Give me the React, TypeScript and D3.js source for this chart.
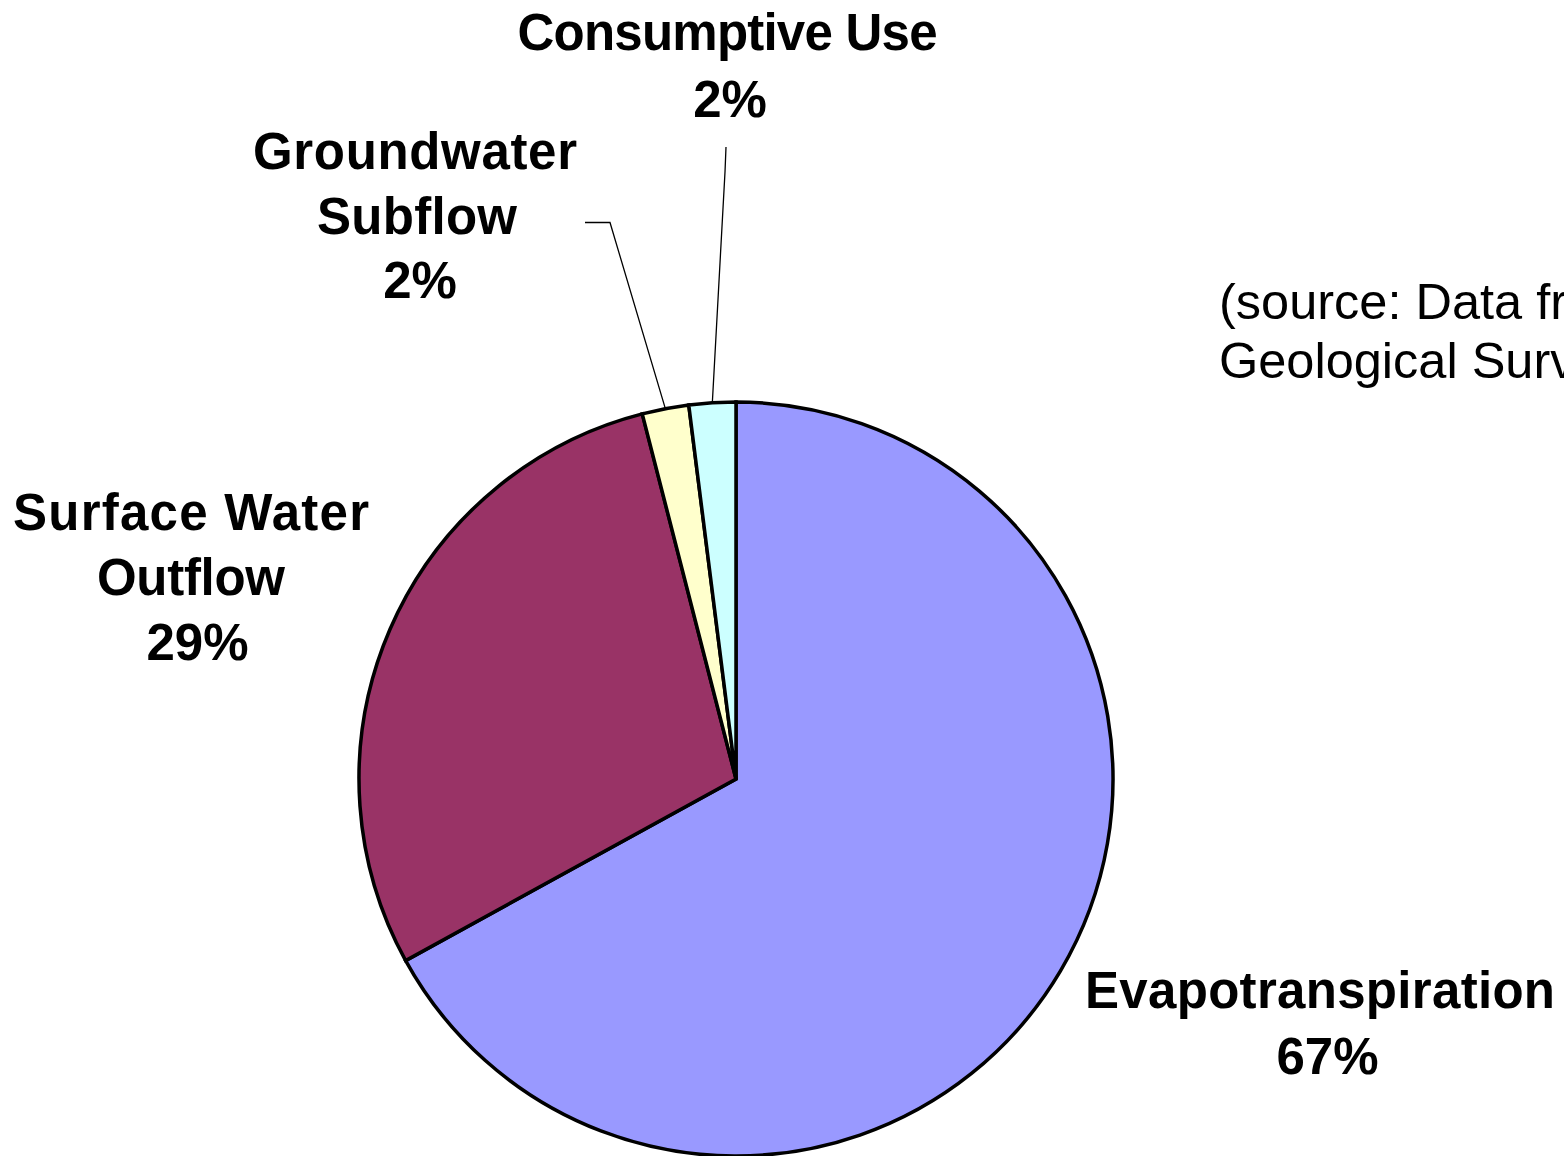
import React from "react";
import * as d3 from "d3";

// Water budget outflow components (percent of total)
const categories = [
  "Evapotranspiration",
  "Surface Water Outflow",
  "Groundwater Subflow",
  "Consumptive Use",
];
const values = [67, 29, 2, 2];
const sliceColors = ["#9999FF", "#993366", "#FFFFCC", "#CCFFFF"];

// Label lines per category (name split across lines, then percentage)
const labelLines = [
  ["Evapotranspiration"],
  ["Surface Water", "Outflow"],
  ["Groundwater", "Subflow"],
  ["Consumptive Use"],
];
const sourceLines = ["(source: Data from U.S.", "Geological Survey)"];

const W = 1564;
const H = 1156;
const CX = 736;
const CY = 779;
const R = 377;

// Label block layout: per-line centre x, first baseline, line step, fitted widths of the name lines
const labelLayout = [
  { xs: [1320, 1327.5], y: 1008, step: 66, widths: [470] },
  { xs: [191, 191, 197.5], y: 530, step: 65, widths: [356, 188] },
  { xs: [415, 417, 420], y: 169, step: 64.5, widths: [324, 200] },
  { xs: [727.5, 730], y: 50, step: 67, widths: [420] },
];

// Leader line elbows for the two thin slices (from label towards the pie edge)
const leaderElbows: Record<number, [number, number][]> = {
  2: [
    [585, 222.5],
    [610, 222.5],
  ],
  3: [
    [726, 147],
    [725, 172],
  ],
};

export default function App() {
  const pie = d3
    .pie<number>()
    .sort(null)
    .startAngle(0)
    .endAngle(2 * Math.PI)
    .value((d) => d);
  const arcs = pie(values);
  const arc = d3.arc<d3.PieArcDatum<number>>().innerRadius(0).outerRadius(R);
  const total = d3.sum(values);
  const fmt = (v: number) => `${Math.round((v / total) * 100)}%`;

  const edgePoint = (a: d3.PieArcDatum<number>): [number, number] => {
    const mid = (a.startAngle + a.endAngle) / 2;
    return [CX + R * Math.sin(mid), CY - R * Math.cos(mid)];
  };

  return (
    <div style={{ position: "absolute", left: 0, top: 0 }}>
      <svg width={W} height={H} style={{ display: "block", background: "#fff" }}>
        <rect width={W} height={H} fill="#fff" />
        <g transform={`translate(${CX},${CY})`}>
          {arcs.map((a, i) => (
            <path
              key={categories[i]}
              d={arc(a) || ""}
              fill={sliceColors[i]}
              stroke="#000"
              strokeWidth={3.5}
              strokeLinejoin="miter"
            />
          ))}
        </g>
        {arcs.map((a, i) => {
          const elbows = leaderElbows[i];
          if (!elbows) return null;
          const pts = [...elbows, edgePoint(a)];
          return (
            <path
              key={`leader-${i}`}
              d={d3.line()(pts) || ""}
              fill="none"
              stroke="#000"
              strokeWidth={1.3}
            />
          );
        })}
        {labelLines.map((lines, i) => {
          const L = labelLayout[i];
          const all = [...lines, fmt(values[i])];
          return (
            <text
              key={`label-${i}`}
              fontFamily="'Liberation Sans', Arial, sans-serif"
              fontWeight="bold"
              fontSize={51}
              fill="#000"
              textAnchor="middle"
            >
              {all.map((t, j) => {
                const w = L.widths[j];
                return (
                  <tspan
                    key={j}
                    x={L.xs[j]}
                    y={L.y + j * L.step}
                    {...(w ? { textLength: w, lengthAdjust: "spacing" } : {})}
                  >
                    {t}
                  </tspan>
                );
              })}
            </text>
          );
        })}
        <text
          fontFamily="'Liberation Sans', Arial, sans-serif"
          fontSize={50.5}
          fill="#000"
        >
          {sourceLines.map((t, j) => (
            <tspan key={j} x={1219} y={319 + j * 59}>
              {t}
            </tspan>
          ))}
        </text>
      </svg>
    </div>
  );
}
